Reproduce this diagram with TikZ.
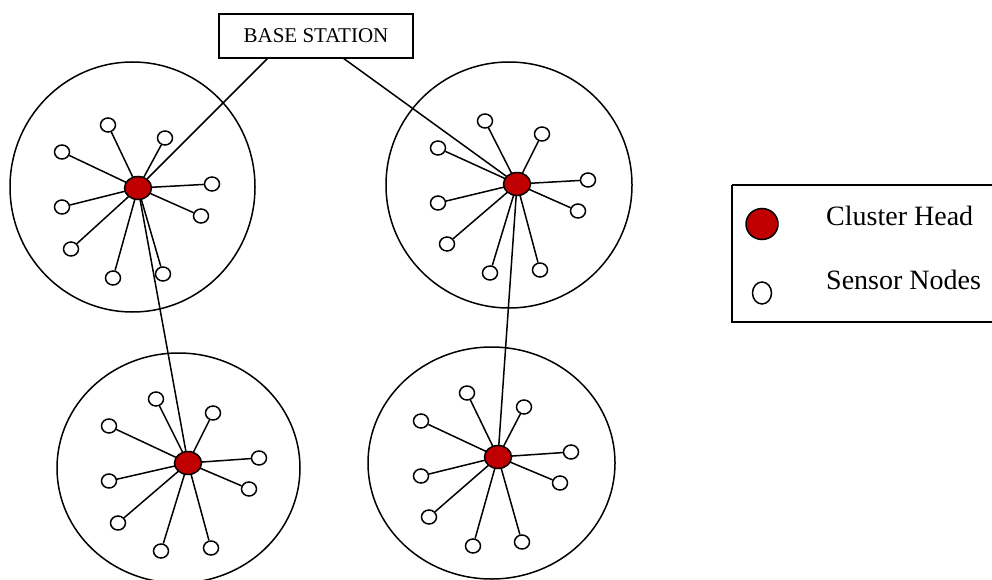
\documentclass[tikz,border=0pt]{standalone}
\usepackage{fontspec}
\setmainfont{Liberation Serif}
\usetikzlibrary{shapes.geometric}
\definecolor{chred}{RGB}{192,0,0}
\tikzset{
  link/.style={line width=1.5pt},
  cluster/.style={draw, ellipse, line width=1.5pt, inner sep=0pt},
  sensor/.style={draw, ellipse, fill=white, line width=1.5pt, inner sep=0pt, minimum width=15pt, minimum height=14pt},
  head/.style={draw, ellipse, fill=chred, line width=1.5pt, inner sep=0pt, minimum width=27pt, minimum height=23pt},
}
\begin{document}
\begin{tikzpicture}[x=1pt,y=-1pt]
\useasboundingbox (0,0) rectangle (992,580);
% cluster boundaries
\node[cluster, minimum width=245pt, minimum height=250pt] (c1) at (132.5,187) {};
\node[cluster, minimum width=246pt, minimum height=246pt] (c2) at (509,185) {};
\node[cluster, minimum width=243pt, minimum height=230pt] (c3) at (178.5,468) {};
\node[cluster, minimum width=247pt, minimum height=232pt] (c4) at (491.5,463) {};
% base station
\node[draw, line width=1.5pt, minimum width=194pt, minimum height=44pt, inner sep=0pt, font=\fontsize{21}{23}\selectfont] (bs) at (316,36) {BASE STATION};
\coordinate (bsl) at (268,58);
\coordinate (bsr) at (343,58);
% cluster heads (positions)
\coordinate (p1) at (138,188);
\coordinate (p2) at (517,184);
\coordinate (p3) at (188,463);
\coordinate (p4) at (498,457);
% sensors
\foreach \i/\x/\y in {1/108/125,2/165/138,3/62/152,4/212/184,5/62/207,6/201/216,7/71/249,8/113/278,9/163/274}
  \node[sensor] (a\i) at (\x,\y) {};
\foreach \i/\x/\y in {1/485/121,2/542/134,3/438/148,4/588/180,5/438/203,6/578/211,7/447/244,8/490/273,9/540/270}
  \node[sensor] (b\i) at (\x,\y) {};
\foreach \i/\x/\y in {1/156/399,2/213/413,3/109/426,4/259/458,5/109/481,6/249/489,7/118/523,8/161/551,9/211/548}
  \node[sensor] (c\i) at (\x,\y) {};
\foreach \i/\x/\y in {1/467/393,2/524/407,3/421/421,4/571/452,5/421/476,6/560/483,7/429/517,8/473/546,9/522/542}
  \node[sensor] (d\i) at (\x,\y) {};
% links
\foreach \i in {1,...,9} {
  \draw[link] (a\i) -- (p1);
  \draw[link] (b\i) -- (p2);
  \draw[link] (c\i) -- (p3);
  \draw[link] (d\i) -- (p4);
}
\draw[link] (bsl) -- (p1);
\draw[link] (bsr) -- (p2);
\draw[link] (p1) -- (p3);
\draw[link] (p2) -- (p4);
% cluster heads
\node[head] (h1) at (p1) {};
\node[head] (h2) at (p2) {};
\node[head] (h3) at (p3) {};
\node[head] (h4) at (p4) {};
% legend
\draw[line width=1.5pt] (732,185) coordinate (lg) -- (995,185) (995,322) -- (732,322) -- (732,185);
\node[head, minimum width=32pt, minimum height=31pt] (lh) at (762,224) {};
\node[sensor, minimum width=19pt, minimum height=22pt] (ls) at (762,293) {};
\node[anchor=base west, inner sep=0pt, font=\fontsize{28}{30}\selectfont] (lt1) at (826,225) {Cluster Head};
\node[anchor=base west, inner sep=0pt, font=\fontsize{28}{30}\selectfont] (lt2) at (826,289) {Sensor Nodes};
\end{tikzpicture}
\end{document}
